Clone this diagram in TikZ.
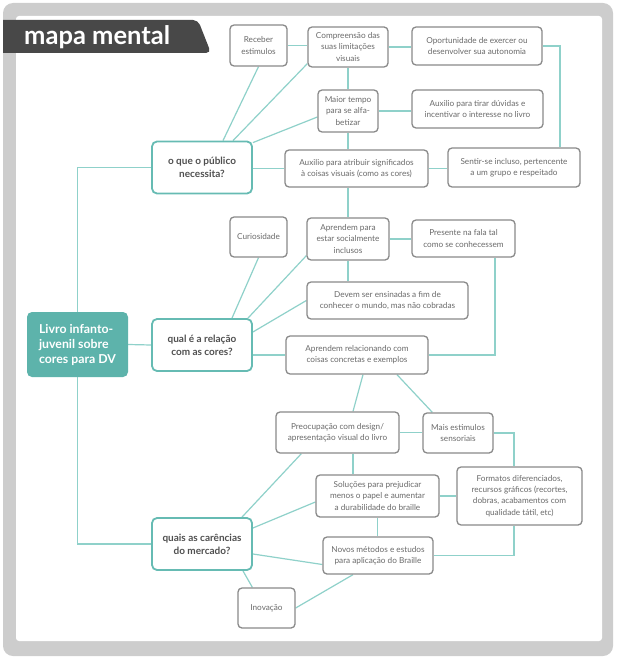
\documentclass[tikz,border=0pt]{standalone}
\usepackage{fontspec}
\setmainfont{Lato}
\usepackage{xcolor}
\usetikzlibrary{calc,backgrounds}

\definecolor{tealline}{HTML}{8FD1CA}
\definecolor{tealedge}{HTML}{66BBB3}
\definecolor{tealfill}{HTML}{5DB3AB}
\definecolor{boxgray}{HTML}{8A8A8A}
\definecolor{boxtext}{HTML}{6A6A6A}
\definecolor{questtext}{HTML}{505050}
\definecolor{framegray}{HTML}{CDCDCD}
\definecolor{bannergray}{HTML}{484848}

\begin{document}
\begin{tikzpicture}[x=1pt,y=-1pt,
    box/.style={draw=boxgray, line width=1.3pt, rounded corners=4pt, fill=white, text=boxtext, align=center, inner sep=1pt, font=\fontsize{8.2}{11.3}\selectfont},
    quest/.style={draw=tealedge, line width=1.8pt, rounded corners=5pt, fill=white, text=questtext, align=center, minimum width=100pt, minimum height=52pt, font=\bfseries\fontsize{10}{13}\selectfont},
    root/.style={fill=tealfill, rounded corners=5pt, text=white, align=left, minimum width=101pt, minimum height=65pt, font=\bfseries\fontsize{12.3}{15}\selectfont},
    link/.style={draw=tealline, line width=1.2pt}]
    \useasboundingbox (0,0) rectangle (616,658);

    \node[text=white, anchor=base west, inner sep=0pt, font=\bfseries\fontsize{25.5}{25.5}\selectfont] (title) at (24,45) {mapa mental};

    \node[root] (livro) at (77.5,344.5) {Livro infanto-\\juvenil sobre\\cores para DV};
    \node[quest] (pub) at (202,167.5) {o que o público\\necessita?};
    \node[quest] (rel) at (202,345) {qual é a relação\\com as cores?};
    \node[quest] (merc) at (202,544) {quais as carências\\do mercado?};

    \node[box, minimum width=57pt, minimum height=41pt] (rec) at (258.5,45.5) {Receber\\estimulos};
    \node[box, minimum width=80pt, minimum height=40pt] (comp) at (348,47) {Compreensão das\\suas limitações\\visuais};
    \node[box, minimum width=130pt, minimum height=38pt] (opor) at (477,46) {Oportunidade de exercer ou\\desenvolver sua autonomia};
    \node[box, minimum width=60pt, minimum height=42pt] (maior) at (348,111) {Maior tempo\\para se alfa-\\betizar};
    \node[box, minimum width=131pt, minimum height=38pt] (tirar) at (477.5,109) {Auxilio para tirar dúvidas e\\incentivar o interesse no livro};
    \node[box, minimum width=143pt, minimum height=37pt] (atrib) at (356.5,168.5) {Auxilio para atribuir significados\\à coisas visuais (como as cores)};
    \node[box, minimum width=132pt, minimum height=39pt] (sentir) at (514,167.5) {Sentir-se incluso, pertencente\\a um grupo e respeitado};

    \node[box, minimum width=57pt, minimum height=40pt] (curi) at (258.5,237) {Curiosidade};
    \node[box, minimum width=82pt, minimum height=42pt] (social) at (348,239) {Aprendem para\\estar socialmente\\inclusos};
    \node[box, minimum width=103pt, minimum height=37pt] (fala) at (463.5,238.5) {Presente na fala tal\\como se conhecessem};
    \node[box, minimum width=161pt, minimum height=37pt] (devem) at (387.5,300.5) {Devem ser ensinadas a fim de\\conhecer o mundo, mas não cobradas};
    \node[box, minimum width=142pt, minimum height=38pt] (concr) at (357,355) {Aprendem relacionando com\\coisas concretas e exemplos};

    \node[box, minimum width=123pt, minimum height=41pt] (design) at (337.5,432.5) {Preocupação com design/\\apresentação visual do livro};
    \node[box, minimum width=70pt, minimum height=40pt] (sens) at (458,433) {Mais estimulos\\sensoriais};
    \node[box, minimum width=123pt, minimum height=42pt] (solu) at (377.5,496) {Soluções para prejudicar\\menos o papel e aumentar\\a durabilidade do braille};
    \node[box, minimum width=125pt, minimum height=58pt] (form) at (519.5,496) {Formatos diferenciados,\\recursos gráficos (recortes,\\dobras, acabamentos com\\qualidade tátil, etc)};
    \node[box, minimum width=110pt, minimum height=37pt] (novos) at (378,555.5) {Novos métodos e estudos\\para aplicação do Braille};
    \node[box, minimum width=57pt, minimum height=40pt] (inov) at (266.5,608) {Inovação};

    \begin{scope}[on background layer]
    \fill[framegray, rounded corners=10pt] (3,3) rectangle (613,656);
    \fill[white, rounded corners=3pt] (16,16) rectangle (602,641);
    \fill[bannergray] (3,20) [rounded corners=5pt] -- (198,20) -- (211,53) [sharp corners] -- (3,53) -- cycle;

    \draw[link] (pub.west) -| (livro.north);
    \draw[link] (livro.south) |- (merc.west);
    \draw[link] (livro.east) -- (rel.west);

    \draw[link] ([xshift=21pt]pub.north) -- (rec.south);
    \draw[link] ([xshift=31pt]pub.north) -- ([yshift=4pt]comp.south west);
    \draw[link] ([yshift=-2pt]pub.north east) -- ([yshift=-6pt]maior.west);
    \draw[link] (atrib.west -| pub.east) -- (atrib.west);
    \draw[link] (rec.east) -- (rec.east -| comp.west);
    \draw[link] (comp.east) -- (comp.east -| opor.west);
    \draw[link] (comp.south) -- (maior.north);
    \draw[link] (maior.east) -- (maior.east -| tirar.west);
    \draw[link] (maior.south) -- (maior.south |- atrib.north);
    \draw[link] (atrib.east) -- (atrib.east -| sentir.west);
    \draw[link] (opor.east) -| ([xshift=46pt]sentir.north);
    \draw[link] (social.north |- atrib.south) -- (social.north);

    \draw[link] ([xshift=30pt]rel.north) -- (curi.south);
    \draw[link] ([xshift=46pt]rel.north) -- ([yshift=5pt]social.south west);
    \draw[link] ([yshift=13pt]rel.east) -- (devem.west);
    \draw[link] (rel.east |- concr.west) -- (concr.west);
    \draw[link] (social.east) -- (social.east -| fala.west);
    \draw[link] (social.south) -- (social.south |- devem.north);
    \draw[link] ([xshift=31.5pt]fala.south) |- (concr.east);

    \draw[link] ([xshift=6pt]concr.south) -- ([xshift=15.5pt]design.north);
    \draw[link] ([xshift=40pt]concr.south) -- ([xshift=10pt]sens.north west);
    \draw[link] (design.east) -- (design.east -| sens.west);
    \draw[link] ([xshift=15.5pt]design.south) -- ([xshift=15.5pt]design.south |- solu.north);
    \draw[link] (sens.east) -| ([xshift=-5.5pt]form.north);
    \draw[link] (solu.east) -- (solu.east -| form.west);
    \draw[link] (solu.south) -- (solu.south |- novos.north);
    \draw[link] ([xshift=-5.5pt]form.south) |- (novos.east);

    \draw[link] ([xshift=40pt]merc.north) -- ([xshift=26pt]design.south west);
    \draw[link] ([yshift=16pt]merc.east) -- ([yshift=-6pt]solu.west);
    \draw[link] ([yshift=-10pt]merc.east) -- ([yshift=-9pt]novos.west);
    \draw[link] ([xshift=41pt]merc.south) -- ([xshift=15pt]inov.north west);
    \draw[link] (inov.east) -- ([xshift=-25pt]novos.south);
    \end{scope}
\end{tikzpicture}
\end{document}
